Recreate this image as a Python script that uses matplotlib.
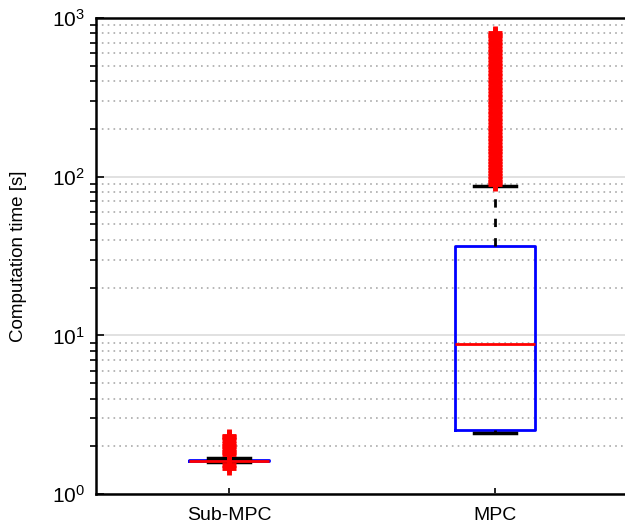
import matplotlib
matplotlib.use('Agg')
from matplotlib import pyplot as plt

plt.rcParams['font.family'] = ['Liberation Sans', 'DejaVu Sans']
plt.rcParams['mathtext.fontset'] = 'custom'
plt.rcParams['mathtext.rm'] = 'Liberation Sans'
plt.rcParams['mathtext.it'] = 'Liberation Sans'
plt.rcParams['mathtext.bf'] = 'Liberation Sans'

labels = ['Sub-MPC', 'MPC']
q1 = [1.62, 2.53]
med = [1.63, 8.8]
q3 = [1.65, 36.5]
whislo = [1.6, 2.43]
whishi = [1.68, 88]
fliers_sub = [1.47, 1.52, 1.78, 1.85, 1.92, 2.0, 2.08, 2.18, 2.28, 2.33]
fliers_mpc = [90, 93, 97, 101, 105, 110, 115, 120, 126, 132, 138, 145, 152, 159,
              167, 175, 184, 193, 203, 213, 224, 235, 247, 260, 273, 287, 302,
              318, 334, 351, 369, 388, 408, 429, 451, 474, 498, 524, 551, 579,
              609, 640, 673, 707, 743, 781, 800]

stats = []
for i, name in enumerate(labels):
    stats.append({'label': name, 'q1': q1[i], 'med': med[i], 'q3': q3[i],
                  'whislo': whislo[i], 'whishi': whishi[i],
                  'fliers': [fliers_sub, fliers_mpc][i]})

fig = plt.figure(figsize=(6.25, 5.28), dpi=100)
# right edge runs past the image, as in the reference
ax = fig.add_axes([0.1536, 0.064, 0.851, 0.902])

ax.bxp(stats, positions=[1, 2], widths=0.3, capwidths=0.16,
       boxprops=dict(color='#0000ff', linewidth=2),
       medianprops=dict(color='#ff0000', linewidth=2),
       whiskerprops=dict(color='black', linewidth=2, linestyle=(0, (3, 4))),
       capprops=dict(color='black', linewidth=2.5),
       flierprops=dict(marker='+', markeredgecolor='#ff0000', markersize=10,
                       markeredgewidth=3.5, linestyle='none'))

ax.set_yscale('log')
ax.set_ylim(1, 1000)
ax.set_xlim(0.5, 2.5)
ax.set_ylabel('Computation time [s]', fontsize=13.5)
ax.yaxis.set_label_coords(-0.13, 0.5)
ax.tick_params(axis='both', direction='in')
ax.tick_params(axis='x', labelsize=14, length=4, width=1.2, pad=9)
ax.tick_params(axis='y', which='major', labelsize=15, length=6, width=1.2, pad=8)
ax.tick_params(axis='y', which='minor', length=4, width=1.2)
ax.grid(True, which='major', axis='y', color='#dcdcdc', linewidth=1.2, linestyle='-')
ax.grid(True, which='minor', axis='y', color='#aaaaaa', linewidth=1.2, linestyle=(0, (1, 2.5)))
ax.set_axisbelow(True)
for s in ax.spines.values():
    s.set_linewidth(1.8)

plt.savefig('out.png')
